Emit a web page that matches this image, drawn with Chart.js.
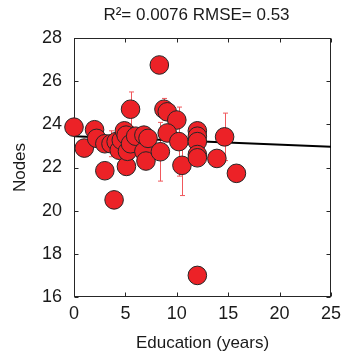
<!DOCTYPE html>
<html>
<head>
<meta charset="utf-8">
<script src="https://cdn.jsdelivr.net/npm/chart.js@4"></script>
<style>
  html, body { margin: 0; padding: 0; background: #fff; }
  #wrap { width: 347px; height: 356px; }
</style>
</head>
<body>
<div id="wrap"><canvas id="nodesChart" width="347" height="356"></canvas></div>
<script>
// data
const eduYears = [0, 1.0, 2.0, 2.2, 3.0, 3.0, 3.6, 3.9, 4.1, 4.4, 4.6, 4.9, 5.07, 5.1, 5.2, 5.5, 5.5, 6.0, 6.8, 6.8, 7.0, 7.2,
                  8.3, 8.75, 9.07, 10.0, 9.07, 10.2, 8.4, 10.5, 12, 12, 12, 12, 12, 12, 13.9, 14.65, 15.8];
const nodes    = [23.87, 22.9, 23.75, 23.35, 23.1, 21.85, 23.1, 20.5, 23.2, 22.8, 23.27, 23.7, 23.5, 22.05, 22.75, 24.7, 23.1, 23.45, 23.5, 22.75, 22.3, 23.35,
                  26.75, 24.7, 24.58, 24.2, 23.6, 23.2, 22.73, 22.1, 23.7, 23.45, 23.2, 22.6, 22.45, 17.0, 22.42, 23.42, 21.73];
const nodeErr  = [0, 0, 0, 0, 0, 0, 0.6, 0, 0, 0, 0, 0, 0, 0, 0, 0.8, 0, 0, 0, 0, 0, 0,
                  0, 0.5, 0, 0, 0, 1.6, 1.36, 1.4, 0, 0, 0, 0, 0, 0, 0, 1.1, 0];
const fitX = [0, 25];
const fitY = [23.45, 22.96];
const titleText = 'R\u00b2= 0.0076 RMSE= 0.53';

const fontFam = "'Liberation Sans', Arial, sans-serif";
const textCol = '#1a1a1a';

// error bars, drawn behind the markers
const errorBars = {
    id: 'errorBars',
    beforeDatasetsDraw(chart) {
        const ctx = chart.ctx;
        const xs = chart.scales.x, ys = chart.scales.y;
        ctx.save();
        ctx.strokeStyle = '#f0585c';
        ctx.lineWidth = 1;
        for (let i = 0; i < eduYears.length; i++) {
            if (!nodeErr[i]) continue;
            const px = Math.round(xs.getPixelForValue(eduYears[i])) + 0.5;
            const top = ys.getPixelForValue(nodes[i] + nodeErr[i]);
            const bot = ys.getPixelForValue(nodes[i] - nodeErr[i]);
            ctx.beginPath();
            ctx.moveTo(px, top); ctx.lineTo(px, bot);
            ctx.moveTo(px - 2.5, top); ctx.lineTo(px + 2.5, top);
            ctx.moveTo(px - 2.5, bot); ctx.lineTo(px + 2.5, bot);
            ctx.stroke();
        }
        ctx.restore();
    }
};

// box round the plot with inward ticks, plus the title
const boxAndTitle = {
    id: 'boxAndTitle',
    beforeDatasetsDraw(chart) {
        const ctx = chart.ctx;
        const a = chart.chartArea;
        const xs = chart.scales.x, ys = chart.scales.y;
        const tl = 4;
        ctx.save();
        ctx.strokeStyle = '#262626';
        ctx.lineWidth = 1;
        const l = Math.round(a.left) + 0.5, r = Math.round(a.right) - 0.5;
        const t = Math.round(a.top) + 0.5, b = Math.round(a.bottom) - 0.5;
        ctx.strokeRect(l, t, r - l, b - t);
        ctx.beginPath();
        xs.ticks.forEach(tk => {
            const p = Math.round(xs.getPixelForValue(tk.value)) + 0.5;
            ctx.moveTo(p, b); ctx.lineTo(p, b - tl);
            ctx.moveTo(p, t); ctx.lineTo(p, t + tl);
        });
        ys.ticks.forEach(tk => {
            const p = Math.round(ys.getPixelForValue(tk.value)) + 0.5;
            ctx.moveTo(l, p); ctx.lineTo(l + tl, p);
            ctx.moveTo(r, p); ctx.lineTo(r - tl, p);
        });
        ctx.stroke();
        ctx.restore();
    },
    afterDraw(chart) {
        const ctx = chart.ctx;
        const a = chart.chartArea;
        ctx.save();
        ctx.fillStyle = textCol;
        ctx.font = '17px ' + fontFam;
        ctx.textAlign = 'center';
        ctx.textBaseline = 'middle';
        ctx.fillText(titleText, (a.left + a.right) / 2 - 6, 15);
        ctx.restore();
    }
};

const ctx = document.getElementById('nodesChart').getContext('2d');
const chart = new Chart(ctx, {
    type: 'scatter',
    data: {
        datasets: [{
            type: 'line',
            data: fitX.map((x, i) => ({ x: x, y: fitY[i] })),
            borderColor: '#000',
            borderWidth: 2,
            pointRadius: 0,
            fill: false,
            order: 2
        }, {
            data: eduYears.map((x, i) => ({ x: x, y: nodes[i] })),
            backgroundColor: '#ec2227',
            borderColor: '#262626',
            borderWidth: 1,
            pointRadius: 9.3,
            clip: false,
            order: 1
        }]
    },
    options: {
        responsive: false,
        animation: false,
        layout: { padding: { top: 38, right: 13, left: 0, bottom: 0 } },
        plugins: {
            legend: { display: false },
            tooltip: { enabled: false }
        },
        scales: {
            x: {
                type: 'linear',
                min: 0,
                max: 25,
                afterFit(scale) { scale.height = 59; },
                grid: { display: false, drawTicks: false },
                border: { display: false },
                ticks: { stepSize: 5, padding: 6, color: textCol, font: { family: fontFam, size: 18 } },
                title: { display: true, text: 'Education (years)', color: textCol,
                         font: { family: fontFam, size: 17 }, padding: { top: 0, bottom: 2 } }
            },
            y: {
                min: 16,
                max: 28,
                afterFit(scale) { scale.width = 74; },
                grid: { display: false, drawTicks: false },
                border: { display: false },
                ticks: { stepSize: 2, padding: 12, color: textCol, font: { family: fontFam, size: 18 } },
                title: { display: true, text: 'Nodes', color: textCol,
                         font: { family: fontFam, size: 17 }, padding: { top: 10, bottom: 0 } }
            }
        }
    },
    plugins: [errorBars, boxAndTitle]
});
</script>
</body>
</html>
